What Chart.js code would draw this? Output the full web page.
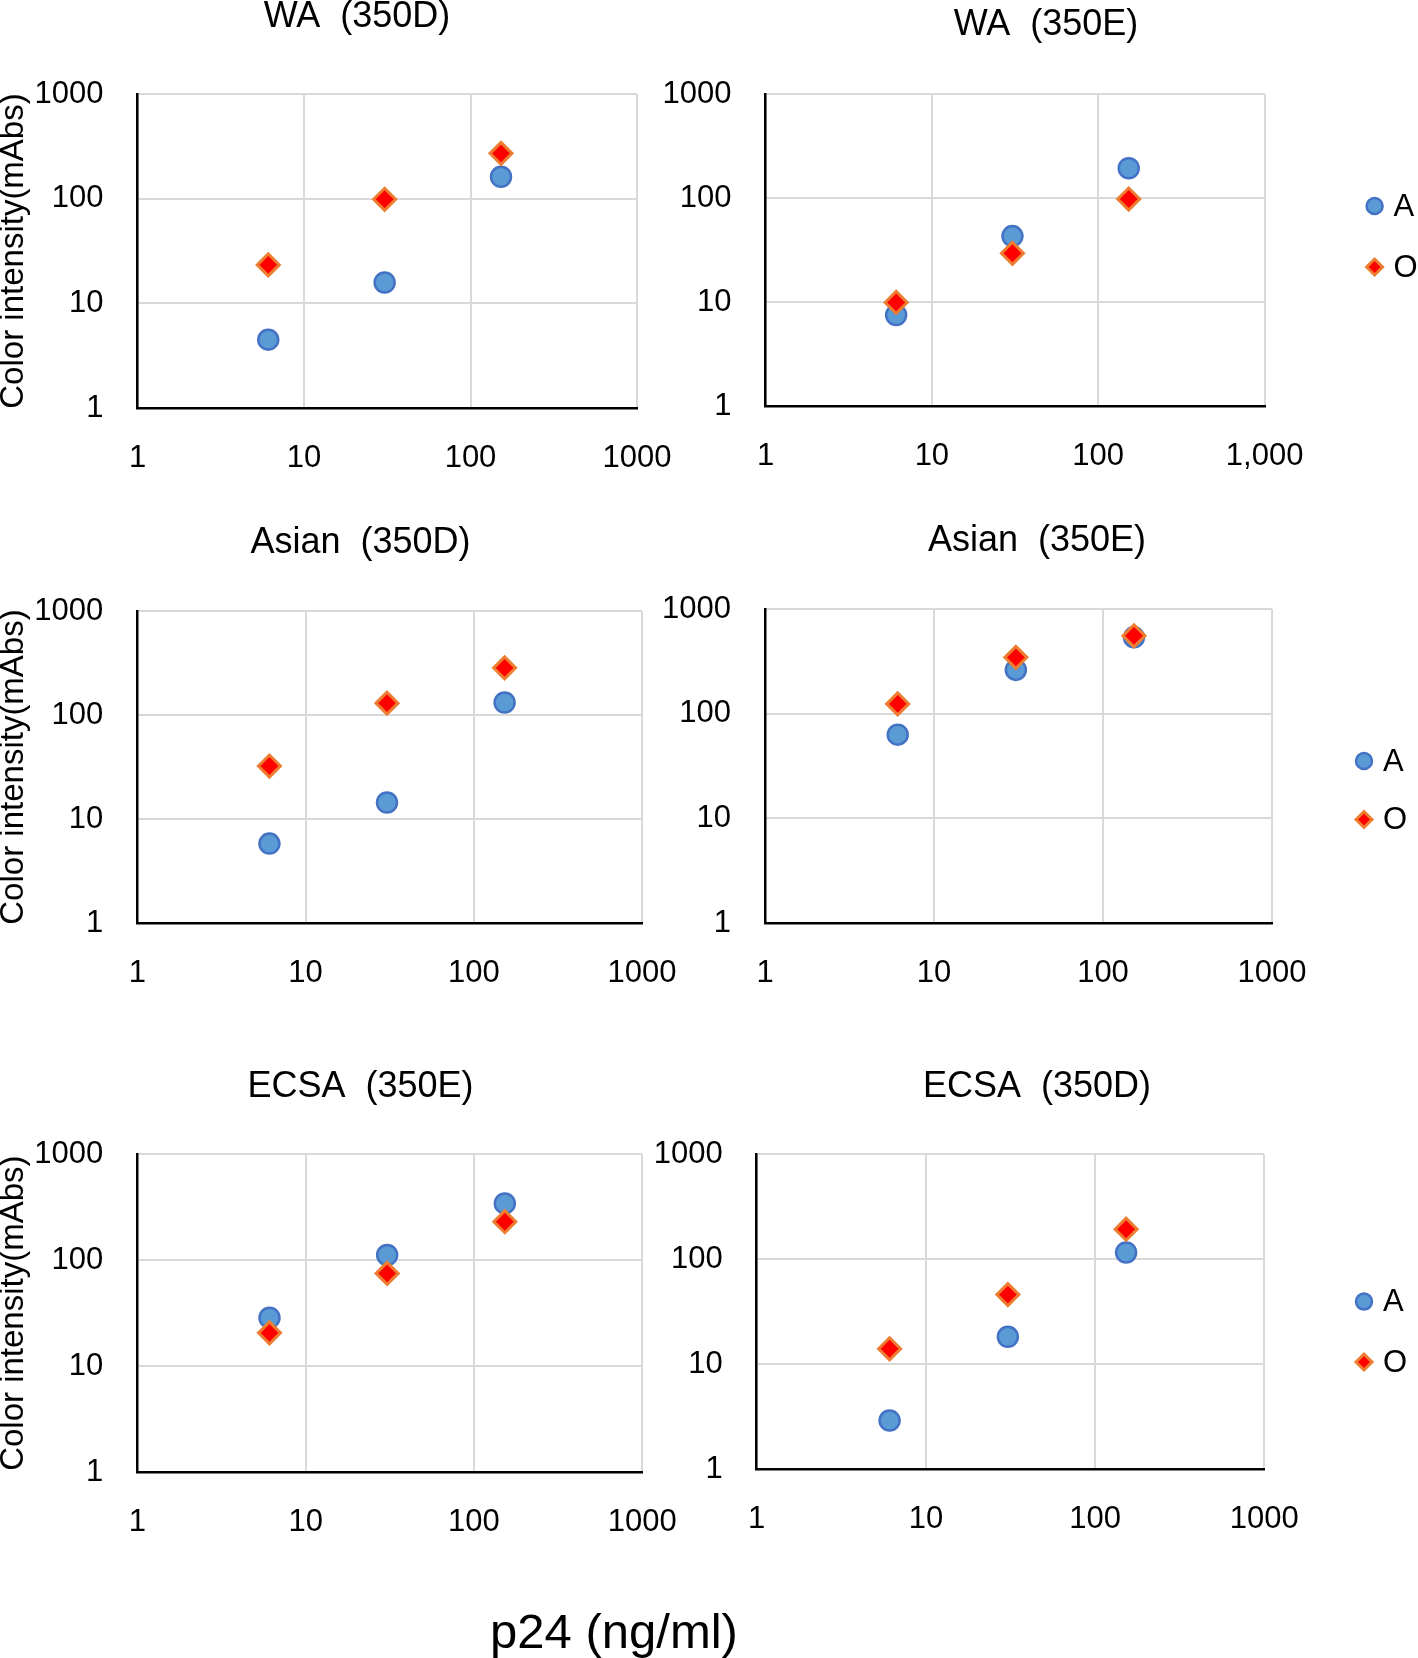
<!DOCTYPE html>
<html>
<head>
<meta charset="utf-8">
<script src="https://cdn.jsdelivr.net/npm/chart.js@4/dist/chart.umd.min.js"></script>
<style>
  html, body { margin: 0; padding: 0; background: #fff; }
  body { width: 1418px; height: 1658px; position: relative; overflow: hidden; font-family: 'Liberation Sans', Arial, sans-serif; }
  canvas { position: absolute; }
  #x-title { position: absolute; left: 0; width: 1228px; top: 1602px; text-align: center; font-size: 49px; line-height: 58px; color: #000; }
</style>
</head>
<body>
<div id="x-title">p24 (ng/ml)</div>
<script>
// p24 concentrations (same three dilutions in every panel)
const doses = [6.1, 30.5, 152.5];
const panelTitles = ['WA  (350D)', 'WA  (350E)', 'Asian  (350D)', 'Asian  (350E)', 'ECSA  (350E)', 'ECSA  (350D)'];
const seriesNames = ['A', 'O'];
// color intensity per panel
const seriesA = [
  [4.5, 15.8, 162],
  [7.5, 43, 193],
  [5.8, 14.4, 132],
  [63, 262, 536],
  [28.6, 112, 344],
  [2.9, 18.2, 116],
];
const seriesO = [
  [23.3, 98.7, 271],
  [9.9, 29.4, 97.8],
  [32.3, 130, 284],
  [124, 345, 555],
  [20.6, 75, 231],
  [14, 46, 193],
];
const decadeTicks = [1, 10, 100, 1000];
const tickLabels = ['1', '10', '100', '1000'];
const tickLabelsComma = ['1', '10', '100', '1,000'];
const yTitle = 'Color intensity(mAbs)';

// plot area on the page [left, top, right, bottom], title centre, legend offsets
const panels = [
  { area: [137.5, 94, 637, 408], title: [357, 17], yTitle: true, xLabels: tickLabels },
  { area: [765.5, 94, 1264.6, 406], title: [1046, 25], xLabels: tickLabelsComma, legend: { dx: 110, y: [112, 173] } },
  { area: [137.3, 611, 642, 923], title: [360.6, 543], yTitle: true, xLabels: tickLabels },
  { area: [765, 609, 1272, 923], title: [1037, 541], xLabels: tickLabels, legend: { dx: 92, y: [152, 210.5] } },
  { area: [137.3, 1154.3, 642.3, 1471.7], title: [360.6, 1087], yTitle: true, xLabels: tickLabels },
  { area: [756.7, 1154.3, 1264.3, 1469.3], title: [1037, 1087], xLabels: tickLabels, legend: { dx: 99.7, y: [147.3, 207.7] } },
];

Chart.defaults.font.family = "'Liberation Sans', Arial, sans-serif";
Chart.defaults.color = '#000';

const TITLE_SIZE = 36;
const TICK_SIZE = 31;
const X_SCALE_H = 80;
const Y_SCALE_W = 110;

// title spans the whole canvas, not only the part left of the padding
const centerTitle = {
  id: 'centerTitle',
  afterLayout(chart) {
    const tb = chart.titleBlock;
    if (!tb) return;
    tb.left = 0;
    tb.right = chart.width;
    tb.width = chart.width;
  },
};

// legend drawn to the right of the plot, one row per dataset
const sideLegend = {
  id: 'sideLegend',
  afterDraw(chart, args, opts) {
    if (!opts.display) return;
    const { ctx, chartArea } = chart;
    const x = chartArea.right + opts.dx;
    chart.data.datasets.forEach((ds, k) => {
      const y = chartArea.top + opts.y[k];
      ctx.save();
      ctx.fillStyle = ds.pointBackgroundColor;
      ctx.strokeStyle = ds.pointBorderColor;
      ctx.lineWidth = ds.pointBorderWidth;
      Chart.helpers.drawPoint(ctx, {
        pointStyle: ds.pointStyle,
        radius: ds.pointStyle === 'circle' ? 8 : 8,
        borderWidth: ds.pointBorderWidth,
        rotation: 0,
      }, x, y);
      ctx.fillStyle = '#000';
      ctx.font = TICK_SIZE + "px 'Liberation Sans', Arial, sans-serif";
      ctx.textAlign = 'left';
      ctx.textBaseline = 'middle';
      ctx.fillText(ds.label, x + 19, y + 1);
      ctx.restore();
    });
  },
};

function logAxis(labels, fit) {
  return {
    type: 'logarithmic',
    min: 1,
    max: 1000,
    afterBuildTicks: (s) => { s.ticks = decadeTicks.map(v => ({ value: v, major: true })); },
    afterFit: fit,
    ticks: {
      font: { size: TICK_SIZE },
      color: '#000',
      autoSkip: false,
      maxRotation: 0,
      callback: (v, k) => labels[k],
    },
    grid: { color: '#D9D9D9', lineWidth: 2, drawTicks: false },
    border: { color: '#000', width: 2.5 },
  };
}

panels.forEach((p, i) => {
  const [l, t, r, b] = p.area;
  const left = p.yTitle ? 0 : Math.round(l - Y_SCALE_W);
  const yW = l - left;
  const right = Math.round(2 * p.title[0] - left);
  const top = Math.round(p.title[1] - TITLE_SIZE * 0.6);
  const titleGap = t - top - TITLE_SIZE * 1.2;
  const bottom = Math.round(b + X_SCALE_H);

  const canvas = document.createElement('canvas');
  canvas.width = right - left;
  canvas.height = bottom - top;
  canvas.style.left = left + 'px';
  canvas.style.top = top + 'px';
  document.body.appendChild(canvas);

  const xAxis = logAxis(p.xLabels, (s) => { s.height = X_SCALE_H; });
  xAxis.ticks.padding = 32;
  const yAxis = logAxis(tickLabels, (s) => { s.width = yW; });
  yAxis.ticks.padding = 34;
  if (p.yTitle) {
    yAxis.title = { display: true, text: yTitle, font: { size: 33, lineHeight: 0.85 }, padding: 0, color: '#000' };
  }

  new Chart(canvas, {
    type: 'scatter',
    data: {
      datasets: [
        {
          label: seriesNames[0],
          data: doses.map((x, k) => ({ x, y: seriesA[i][k] })),
          pointStyle: 'circle',
          pointRadius: 10,
          pointBackgroundColor: '#5B9BD5',
          pointBorderColor: '#4472C4',
          pointBorderWidth: 2.5,
          backgroundColor: '#5B9BD5',
          borderColor: '#4472C4',
          order: 2,
        },
        {
          label: seriesNames[1],
          data: doses.map((x, k) => ({ x, y: seriesO[i][k] })),
          pointStyle: 'rectRot',
          pointRadius: 11,
          pointBackgroundColor: '#FF0000',
          pointBorderColor: '#ED7D31',
          pointBorderWidth: 3,
          backgroundColor: '#FF0000',
          borderColor: '#ED7D31',
          order: 1,
        },
      ],
    },
    options: {
      responsive: false,
      animation: false,
      devicePixelRatio: 1,
      events: [],
      layout: { padding: { left: 0, top: 0, bottom: 0, right: right - r } },
      scales: { x: xAxis, y: yAxis },
      plugins: {
        legend: { display: false },
        tooltip: { enabled: false },
        title: {
          display: true,
          text: panelTitles[i],
          color: '#000',
          font: { size: TITLE_SIZE, weight: 'normal', lineHeight: 1.2 },
          padding: { top: 0, bottom: titleGap },
        },
        sideLegend: p.legend ? { display: true, dx: p.legend.dx, y: p.legend.y } : { display: false },
      },
    },
    plugins: [centerTitle, sideLegend],
  });
});
</script>
</body>
</html>
